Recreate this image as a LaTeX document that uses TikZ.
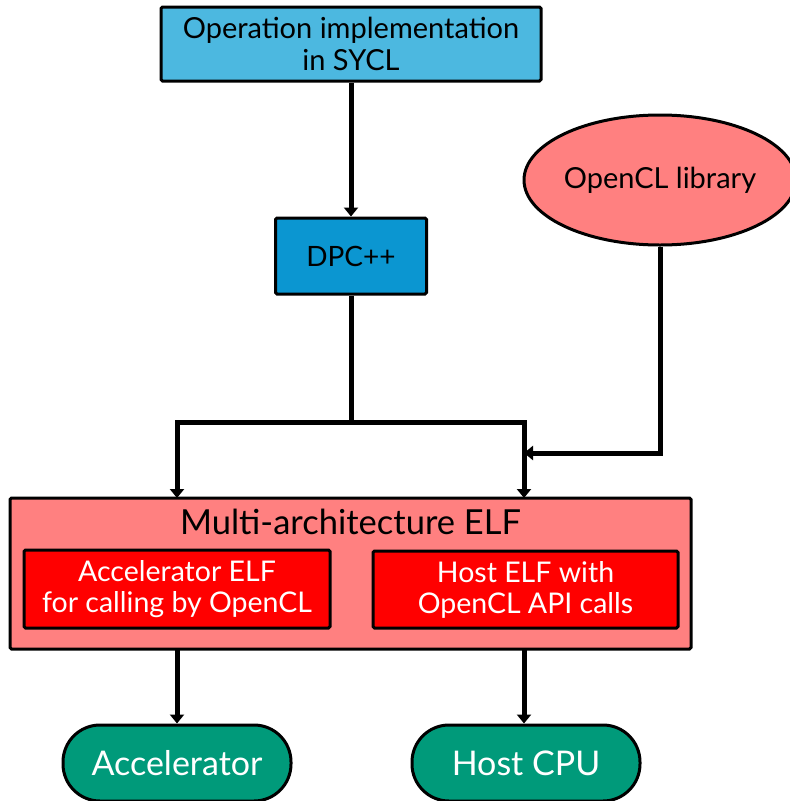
\documentclass[tikz,border=0pt]{standalone}
\usepackage{fontspec}
\setmainfont{Lato}
\usetikzlibrary{arrows.meta,shapes.geometric}
\definecolor{topblue}{HTML}{4CB8E0}
\definecolor{dpcblue}{HTML}{0B96D1}
\definecolor{pinkf}{HTML}{FF8080}
\definecolor{redf}{HTML}{FF0000}
\definecolor{tealf}{HTML}{009A7A}
\begin{document}
\begin{tikzpicture}[x=1pt,y=-1pt,
  box/.style={draw=black,line width=3pt,rounded corners=1.5pt,align=center,inner sep=0pt,font=\fontsize{29}{32}\selectfont},
  inbox/.style={box,fill=redf,text=white,font=\fontsize{28.5}{31}\selectfont},
  term/.style={draw=black,line width=3pt,rounded corners=37pt,fill=tealf,text=white,minimum width=228pt,minimum height=76pt,font=\fontsize{34}{38}\selectfont},
  arr/.style={line width=5pt,-{Triangle[length=9pt,width=14pt]}},
  ln/.style={line width=5pt}]
\useasboundingbox (0,0) rectangle (790,801);
\node[box,fill=topblue,minimum width=380pt,minimum height=74pt] (top) at (351,44) {Operation implementation\\in SYCL};
\node[box,fill=dpcblue,minimum width=151pt,minimum height=76pt,font=\fontsize{28}{32}\selectfont] (dpc) at (351,256) {DPC++};
\node[ellipse,draw=black,line width=3pt,fill=pinkf,minimum width=264pt,minimum height=130pt,inner sep=0pt,font=\fontsize{29}{32}\selectfont] (lib) at (660,180) {OpenCL library};
\node[box,fill=pinkf,minimum width=681pt,minimum height=151pt] (elf) at (350.5,573.5) {};
\node[font=\fontsize{34.5}{38}\selectfont] (elft) at (350.5,522) {Multi-architecture ELF};
\node[inbox,minimum width=306pt,minimum height=78pt] (aelf) at (177,589) {Accelerator ELF\\for calling by OpenCL};
\node[inbox,minimum width=305pt,minimum height=77pt] (helf) at (525.5,589.5) {Host ELF with\\OpenCL API calls};
\node[term] (acc) at (177,763) {Accelerator};
\node[term] (cpu) at (526,763) {Host CPU};
\coordinate (split) at (351,422);
\coordinate (inL) at (177,498);
\coordinate (inR) at (524,498);
\coordinate (libin) at (524,453);
\coordinate (outL) at (177,649);
\coordinate (outR) at (524,649);
\draw[arr] (top) -- (dpc);
\draw[ln] (dpc) -- (split);
\draw[arr] (split) -| (inL);
\draw[arr] (split) -| (inR);
\draw[arr] (lib.south) |- (libin);
\draw[arr] (outL) -- (acc);
\draw[arr] (outR) -- (cpu.north -| outR);
\end{tikzpicture}
\end{document}
